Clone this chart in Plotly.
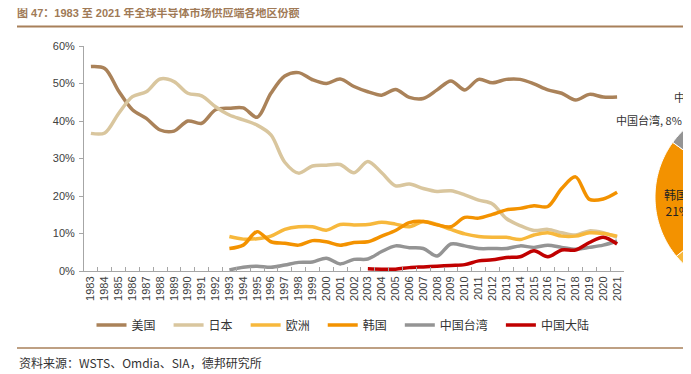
import numpy as np
import plotly.graph_objects as go

# ---------------- data ----------------
years = ["1983", "1984", "1985", "1986", "1987", "1988", "1989", "1990", "1991", "1992",
         "1993", "1994", "1995", "1996", "1997", "1998", "1999", "2000", "2001", "2002",
         "2003", "2004", "2005", "2006", "2007", "2008", "2009", "2010", "2011", "2012",
         "2013", "2014", "2015", "2016", "2017", "2018", "2019", "2020", "2021"]

usa = [54.5, 54.0, 48.0, 43.0, 40.7, 37.6, 37.3, 40.0, 39.4, 43.0,
       43.4, 43.5, 41.0, 47.4, 52.0, 52.9, 51.0, 50.0, 51.2, 49.2,
       47.8, 46.9, 48.4, 46.3, 46.0, 48.3, 50.7, 48.3, 51.1, 50.2,
       51.1, 51.1, 49.9, 48.3, 47.4, 45.6, 47.1, 46.4, 46.4]
japan = [36.7, 36.8, 42.0, 46.5, 47.8, 51.2, 50.5, 47.4, 46.7, 43.8,
         41.6, 40.3, 38.9, 36.3, 29.0, 26.1, 28.0, 28.2, 28.4, 26.2,
         29.2, 26.2, 22.7, 23.2, 22.0, 21.2, 21.4, 20.3, 18.9, 17.9,
         14.0, 12.1, 10.8, 11.1, 10.2, 9.6, 10.7, 10.2, 9.0]
europe = [None] * 10 + [9.2, 8.5, 8.6, 9.3, 11.1, 11.8, 11.8, 10.9,
                        12.4, 12.3, 12.4, 13.0, 12.5, 11.8, 13.2, 12.4, 11.1, 9.9,
                        9.2, 9.0, 9.0, 8.4, 9.6, 10.2, 9.3, 9.3, 10.2, 10.0, 9.3]
korea = [None] * 10 + [6.0, 6.9, 10.5, 7.8, 7.4, 6.9, 8.1, 7.8,
                       6.9, 7.6, 7.8, 9.3, 10.8, 12.9, 13.2, 12.3, 11.8, 14.3,
                       14.1, 15.1, 16.3, 16.7, 17.4, 17.2, 22.0, 25.1, 19.1, 19.2, 21.0]
taiwan = [None] * 10 + [0.3, 1.0, 1.3, 1.0, 1.6, 2.3, 2.4, 3.4,
                        1.9, 3.1, 3.2, 5.2, 6.7, 6.2, 6.0, 4.0, 7.2, 6.7,
                        6.0, 6.0, 6.0, 6.7, 6.3, 6.9, 6.3, 5.8, 6.3, 6.9, 8.0]
china = [None] * 20 + [0.6, 0.5, 0.5, 0.9, 1.1, 1.3, 1.5, 1.7,
                       2.7, 3.0, 3.6, 3.8, 5.4, 3.8, 5.6, 5.6, 7.6, 9.0, 7.2]

series_names = ["美国", "日本", "欧洲", "韩国", "中国台湾", "中国大陆"]
series_values = [usa, japan, europe, korea, taiwan, china]
series_colors = ["#AA8259", "#D9C69E", "#F7B83C", "#F39200", "#949494", "#C00000"]

# 2021 share pie (partly cut off at right edge of the page)
pie_labels = ["美国", "日本", "欧洲", "韩国", "中国台湾", "中国大陆"]
pie_values = [46, 9, 9, 21, 8, 7]

title_text = "图 47：1983 至 2021 年全球半导体市场供应端各地区份额"
source_text = "资料来源：WSTS、Omdia、SIA，德邦研究所"

# ---------------- layout geometry ----------------
OFF = 8                      # page body margin
W, H = 691 - OFF, 374 - OFF
L = 84 - OFF
T = 46 - OFF
R = W - (624 - OFF)
B = H - (271 - OFF)
PW, PH = W - L - R, H - T - B


def px2x(px):   # screen pixel -> paper x
    return (px - OFF - L) / PW


def py2y(py):   # screen pixel -> paper y
    return (H - B - (py - OFF)) / PH


FONT = "Liberation Sans, Arial, Noto Sans CJK SC, sans-serif"
CJK = "Noto Sans CJK SC, sans-serif"
PAD = "\u00a0\u00a0\u00a0"

fig = go.Figure()
for name, vals, col in zip(series_names, series_values, series_colors):
    fig.add_trace(go.Scatter(
        x=years, y=[None if v is None else v / 100 for v in vals],
        name=name + PAD, mode="lines",
        line=dict(color=col, width=3.5, shape="spline", smoothing=0.9),
        connectgaps=False,
    ))

shapes = []
# title underline and bottom rule
shapes.append(dict(type="line", xref="paper", yref="paper",
                   x0=px2x(17), x1=px2x(700), y0=py2y(26.5), y1=py2y(26.5),
                   line=dict(color="#A8805A", width=2.2)))
shapes.append(dict(type="line", xref="paper", yref="paper",
                   x0=px2x(17), x1=px2x(700), y0=py2y(348), y1=py2y(348),
                   line=dict(color="#A8805A", width=1.6)))

# pie slices (clockwise from 12 o'clock)
CX, CY, RAD = 748, 197, 93
total = float(sum(pie_values))
cum = 0.0
for lab, val, col in zip(pie_labels, pie_values, series_colors):
    a0 = cum / total * 2 * np.pi
    a1 = (cum + val) / total * 2 * np.pi
    cum += val
    angs = np.linspace(a0, a1, max(4, int(val * 3)))
    pts = [(CX, CY)] + [(CX + RAD * np.sin(a), CY - RAD * np.cos(a)) for a in angs]
    path = "M " + " L ".join(f"{px2x(x):.5f},{py2y(y):.5f}" for x, y in pts) + " Z"
    shapes.append(dict(type="path", xref="paper", yref="paper", path=path,
                       fillcolor=col, line=dict(color="white", width=1), layer="above"))

annotations = [
    dict(text=source_text, xref="paper", yref="paper", x=px2x(17), y=py2y(362),
         xanchor="left", yanchor="middle", showarrow=False,
         font=dict(family=CJK, size=12, color="#333333")),
    dict(text="中国台湾, 8%", xref="paper", yref="paper", x=px2x(684), y=py2y(120),
         xanchor="right", yanchor="middle", showarrow=False,
         font=dict(family=CJK, size=11, color="#333333")),
    dict(text="中国大陆, 7%", xref="paper", yref="paper", x=px2x(672), y=py2y(97),
         xanchor="left", yanchor="middle", showarrow=False,
         font=dict(family=CJK, size=11, color="#333333")),
    dict(text="韩国,<br>21%", xref="paper", yref="paper", x=px2x(677), y=py2y(202),
         xanchor="center", yanchor="middle", showarrow=False, align="center",
         font=dict(family=CJK, size=12, color="#222222")),
]

fig.update_layout(
    width=W, height=H,
    margin=dict(l=L, r=R, t=T, b=B, pad=0),
    paper_bgcolor="white", plot_bgcolor="white",
    title=dict(text="<b>" + title_text + "</b>", xref="container", yref="container",
               x=(17 - OFF) / W, y=1 - (13.5 - OFF) / H, xanchor="left", yanchor="middle",
               font=dict(family=FONT, size=11, color="#A07A56")),
    xaxis=dict(type="category", range=[-0.5, 38.5], tickson="boundaries",
               ticks="inside", ticklen=4, tickcolor="#A6A6A6",
               showline=True, linecolor="#A6A6A6", linewidth=1,
               showgrid=False, zeroline=False, tickangle=-90,
               tickfont=dict(family=FONT, size=11, color="#404040")),
    yaxis=dict(range=[0, 0.6], dtick=0.1, tickformat=".0%",
               ticks="outside", ticklen=4, tickcolor="#A6A6A6",
               showline=True, linecolor="#A6A6A6", linewidth=1,
               showgrid=False, zeroline=False, ticklabelstandoff=2,
               tickfont=dict(family=FONT, size=11, color="#404040")),
    legend=dict(orientation="h", x=px2x(347), xanchor="center",
                y=py2y(325), yanchor="middle",
                font=dict(family=CJK, size=12, color="#333333"),
                bgcolor="rgba(0,0,0,0)"),
    shapes=shapes,
    annotations=annotations,
)

fig.write_html("out.html")
